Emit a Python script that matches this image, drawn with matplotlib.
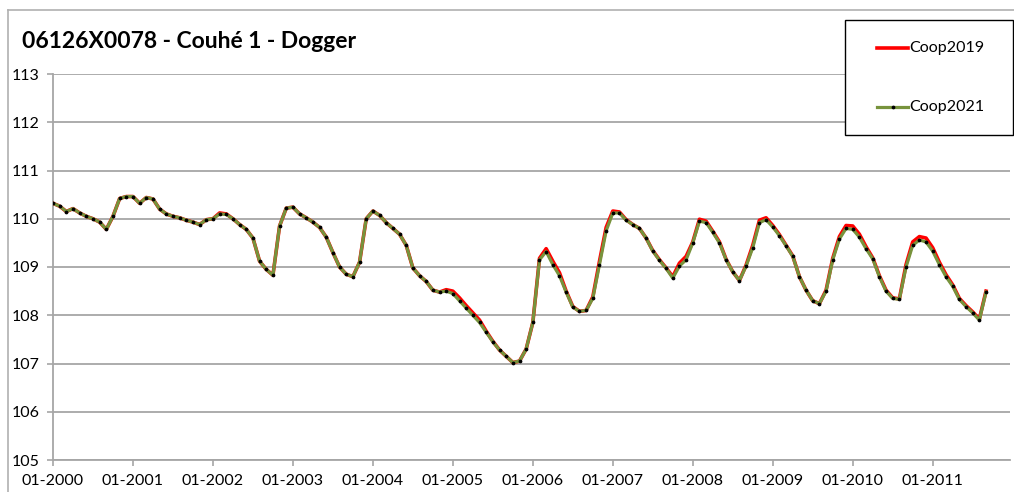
"""
plot.py

Piezometer level chart: Coop2019 vs Coop2021 model runs, 2000-2011.
"""

import numpy as np
import matplotlib
matplotlib.use('Agg')
import matplotlib.pyplot as plt
from matplotlib.lines import Line2D
from matplotlib.patches import Rectangle

TITLE = "06126X0078 - Couhé 1 - Dogger"
SERIES = ["Coop2019", "Coop2021"]
TICK_LABELS = ["01-2000", "01-2001", "01-2002", "01-2003", "01-2004", "01-2005",
               "01-2006", "01-2007", "01-2008", "01-2009", "01-2010", "01-2011"]

# monthly levels from 01-2000 to 09-2011
coop2021 = [
    110.32, 110.26, 110.15, 110.21, 110.12, 110.05, 110.00, 109.93, 109.78, 110.05, 110.42, 110.46,
    110.46, 110.32, 110.44, 110.41, 110.20, 110.10, 110.05, 110.02, 109.97, 109.93, 109.88, 109.98,
    110.00, 110.10, 110.09, 110.00, 109.88, 109.78, 109.60, 109.12, 108.95, 108.83, 109.85, 110.22,
    110.24, 110.10, 110.02, 109.93, 109.82, 109.62, 109.30, 109.00, 108.85, 108.80, 109.10, 110.00,
    110.16, 110.07, 109.92, 109.80, 109.68, 109.45, 108.98, 108.82, 108.70, 108.52, 108.48, 108.50,
    108.45, 108.30, 108.15, 108.00, 107.85, 107.65, 107.45, 107.28, 107.15, 107.02, 107.05, 107.30,
    107.85, 109.15, 109.32, 109.05, 108.82, 108.48, 108.17, 108.08, 108.10, 108.35, 109.05, 109.75,
    110.12, 110.12, 109.97, 109.88, 109.80, 109.60, 109.33, 109.14, 108.97, 108.77, 109.02, 109.15,
    109.50, 109.95, 109.92, 109.72, 109.50, 109.15, 108.90, 108.72, 109.02, 109.40, 109.92, 109.98,
    109.83, 109.65, 109.44, 109.22, 108.80, 108.52, 108.30, 108.24, 108.50, 109.15, 109.58, 109.80,
    109.78, 109.62, 109.38, 109.17, 108.80, 108.50, 108.35, 108.33, 109.00, 109.45, 109.56, 109.52,
    109.33, 109.05, 108.80, 108.60, 108.33, 108.18, 108.05, 107.90, 108.48,
]

coop2019 = [
    110.32, 110.26, 110.15, 110.21, 110.12, 110.05, 110.00, 109.93, 109.78, 110.05, 110.42, 110.46,
    110.46, 110.32, 110.44, 110.41, 110.20, 110.10, 110.05, 110.02, 109.97, 109.93, 109.88, 109.98,
    110.00, 110.12, 110.10, 110.00, 109.88, 109.78, 109.60, 109.12, 108.95, 108.83, 109.85, 110.22,
    110.24, 110.10, 110.02, 109.93, 109.82, 109.62, 109.30, 109.00, 108.85, 108.80, 109.10, 110.00,
    110.16, 110.07, 109.92, 109.80, 109.68, 109.45, 108.98, 108.82, 108.70, 108.52, 108.48, 108.53,
    108.50, 108.36, 108.20, 108.05, 107.90, 107.67, 107.46, 107.28, 107.15, 107.02, 107.05, 107.30,
    107.85, 109.18, 109.38, 109.12, 108.88, 108.50, 108.18, 108.08, 108.10, 108.38, 109.12, 109.82,
    110.16, 110.14, 109.98, 109.88, 109.80, 109.60, 109.34, 109.15, 108.98, 108.80, 109.08, 109.22,
    109.52, 109.99, 109.95, 109.74, 109.52, 109.16, 108.90, 108.72, 109.04, 109.45, 109.97, 110.02,
    109.86, 109.67, 109.45, 109.23, 108.80, 108.52, 108.30, 108.24, 108.52, 109.18, 109.63, 109.86,
    109.85, 109.68, 109.42, 109.19, 108.82, 108.52, 108.36, 108.34, 109.05, 109.52, 109.63, 109.60,
    109.40, 109.10, 108.84, 108.63, 108.35, 108.20, 108.07, 107.92, 108.50,
]

RED = '#ff0000'
OLIVE = '#77933c'
GRID = '#a6a6a6'
FONT = ['Lato', 'DejaVu Sans']


def main():
    plt.rcParams['font.family'] = FONT
    fig = plt.figure(figsize=(10.14, 4.92), dpi=100)
    W, H = 1014, 492

    # outer chart frame (top and left edges visible)
    fig.add_artist(Line2D([8 / W, 8 / W], [0, 1 - 10 / H], color='#b0b0b0', lw=1.2))
    fig.add_artist(Line2D([8 / W, 1], [1 - 10 / H, 1 - 10 / H], color='#b0b0b0', lw=1.2))

    ax = fig.add_axes([53 / W, 1 - 460 / H, (1010 - 53) / W, (460 - 74) / H])
    months = np.arange(len(coop2021))

    ax.plot(months, coop2019, color=RED, lw=2.6, solid_joinstyle='round', zorder=3)
    ax.plot(months, coop2021, color=OLIVE, lw=2.3, marker='o', markersize=1.7,
            markerfacecolor='black', markeredgecolor='black', zorder=4)

    ax.set_ylim(105, 113)
    ax.set_yticks(np.arange(105, 114, 1))
    ax.set_xlim(0, 143.6)
    ax.set_xticks(np.arange(0, 12 * len(TICK_LABELS), 12))
    ax.set_xticklabels(TICK_LABELS)

    ax.yaxis.grid(True, color=GRID, lw=1.3)
    ax.set_axisbelow(True)
    for side in ('top', 'right'):
        ax.spines[side].set_visible(False)
    for side in ('left', 'bottom'):
        ax.spines[side].set_color(GRID)
        ax.spines[side].set_linewidth(1.3)

    ax.tick_params(axis='both', colors=GRID, labelcolor='black', labelsize=11.5,
                   length=4, width=1.2, direction='out')
    ax.tick_params(axis='x', pad=6)
    for lab in ax.get_yticklabels():
        lab.set_horizontalalignment('left')
    ax.tick_params(axis='y', pad=26)

    fig.text(22 / W, 1 - 42 / H, TITLE, fontsize=16.5, fontweight='bold',
             ha='left', va='center')

    # legend box drawn by hand to match the Excel layout
    fig.add_artist(Rectangle((845 / W, 1 - 135 / H), (1013 - 845) / W, (135 - 20) / H,
                             facecolor='white', edgecolor='black', lw=1.0, zorder=5))
    styles = [dict(color=RED, lw=2.6),
              dict(color=OLIVE, lw=2.3, marker='o', markersize=1.7, markevery=[1],
                   markerfacecolor='black', markeredgecolor='black')]
    for name, style, yy in zip(SERIES, styles, [48, 107]):
        y = 1 - yy / H
        fig.add_artist(Line2D([877 / W, 892.5 / W, 908 / W], [y, y, y], zorder=6, **style))
        fig.text(909 / W, y, name, fontsize=11.5, ha='left', va='center', zorder=6)

    fig.savefig('out.png', dpi=100)
    plt.close(fig)


if __name__ == '__main__':
    main()
